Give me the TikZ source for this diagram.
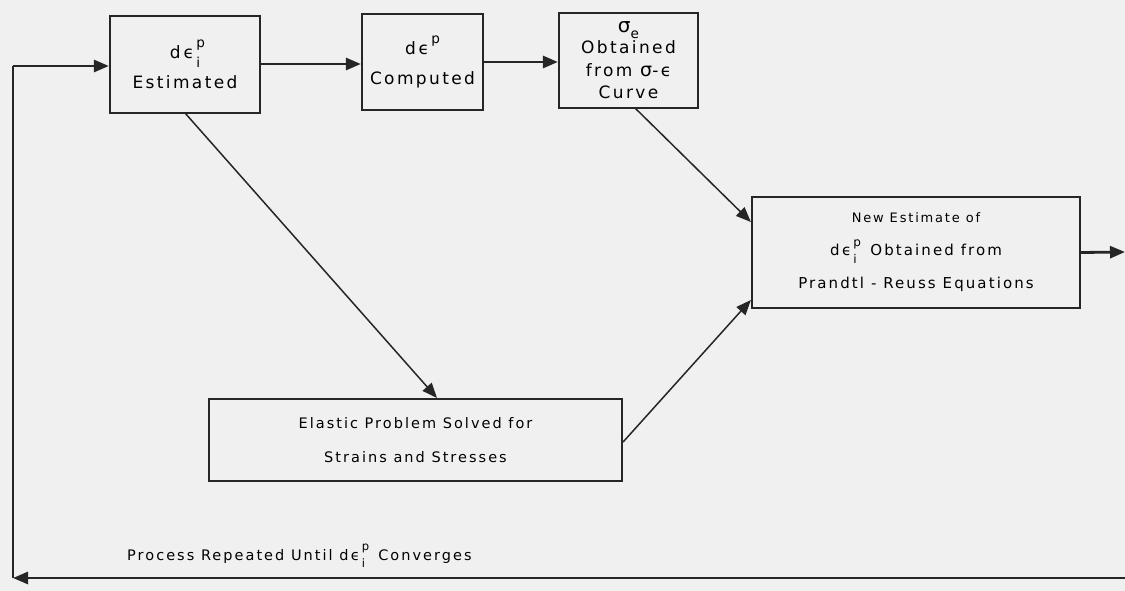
\documentclass[tikz,border=0pt]{standalone}
\usepackage{fontspec}
\setmainfont{DejaVu Sans}[LetterSpace=14]
\usetikzlibrary{arrows.meta}
\newcommand{\sm}[1]{{\fontsize{0.8\dimexpr\fontdimen6\font\relax}{10}\selectfont #1}}
\newcommand{\depi}{d\,ϵ\rlap{\raisebox{1.2ex}{\sm{\,p}}}\raisebox{-0.9ex}{\sm{\,i}}}
\newcommand{\dep}{d\,ϵ\raisebox{1.2ex}{\sm{\,p}}}
\begin{document}
\begin{tikzpicture}[x=1pt,y=-1pt,
  blk/.style={draw=black!85,line width=2.2pt,inner sep=0pt,align=center},
  big/.style={font=\fontsize{17}{30}\selectfont},
  small/.style={font=\fontsize{14.5}{34}\selectfont},
  txt/.style={inner sep=0pt,font=\fontsize{14.5}{26}\selectfont},
  flow/.style={line width=2.8pt,draw=black!85,-{Triangle[length=15pt,width=12pt]}},
  diag/.style={line width=1.5pt,draw=black!85,-{Triangle[length=15pt,width=12pt]}},
  plain/.style={line width=2.8pt,draw=black!85}]
\fill[black!6] (0,0) rectangle (1125,591);
\useasboundingbox (0,0) rectangle (1125,591);
\node[blk,big,minimum width=150pt,minimum height=97pt] (b1) at (185,64.5) {\depi\\Estimated};
\node[blk,big,minimum width=121pt,minimum height=96pt] (b2) at (422.5,62) {\dep\\Computed};
\node[blk,minimum width=139pt,minimum height=95pt,font=\fontsize{17}{22.5}\selectfont] (b3) at (628.5,60.5) {\raisebox{0.3ex}{{\fontsize{20}{20}\selectfont σ}\raisebox{-0.6ex}{\sm{e}}}\\[-4pt]Obtained\\from {\fontsize{19}{20}\selectfont σ}-ϵ\\Curve};
\node[blk,small,minimum width=328pt,minimum height=111pt,font=\fontsize{15}{33}\selectfont] (b4) at (916,252.5) {{\fontsize{13}{33}\selectfont New Estimate of}\\\depi\ \ Obtained from\\Prandtl - Reuss Equations};
\node[blk,small,minimum width=413pt,minimum height=82pt] (b5) at (415.5,440) {Elastic Problem Solved for\\Strains and Stresses};
\node[txt,anchor=west] (lab) at (127,556) {Process Repeated Until \depi\ \ Converges};
\coordinate (rin) at (1125,578);
\coordinate (lb) at (13,578);
\coordinate (lt) at (13,66);
\coordinate (rout) at (1125,252);
\coordinate (c1) at (185,113);
\coordinate (c5) at (437,398);
\coordinate (c3) at (635,108);
\draw[flow] (rin) -- (lb);
\draw[plain] (lb) -- (lt);
\draw[flow] (lt) -- (b1.west |- lt);
\draw[flow] (b1.east |- 0,64) -- (b2.west |- 0,64);
\draw[flow] (b2.east |- 0,62) -- (b3.west |- 0,62);
\draw[diag] (c3) -- (b4.west |- 0,222);
\draw[diag] (c1) -- (c5);
\draw[diag] (b5.east |- 0,442) -- (b4.west |- 0,300);
\draw[flow] (b4.east) -- (rout);
\end{tikzpicture}
\end{document}
